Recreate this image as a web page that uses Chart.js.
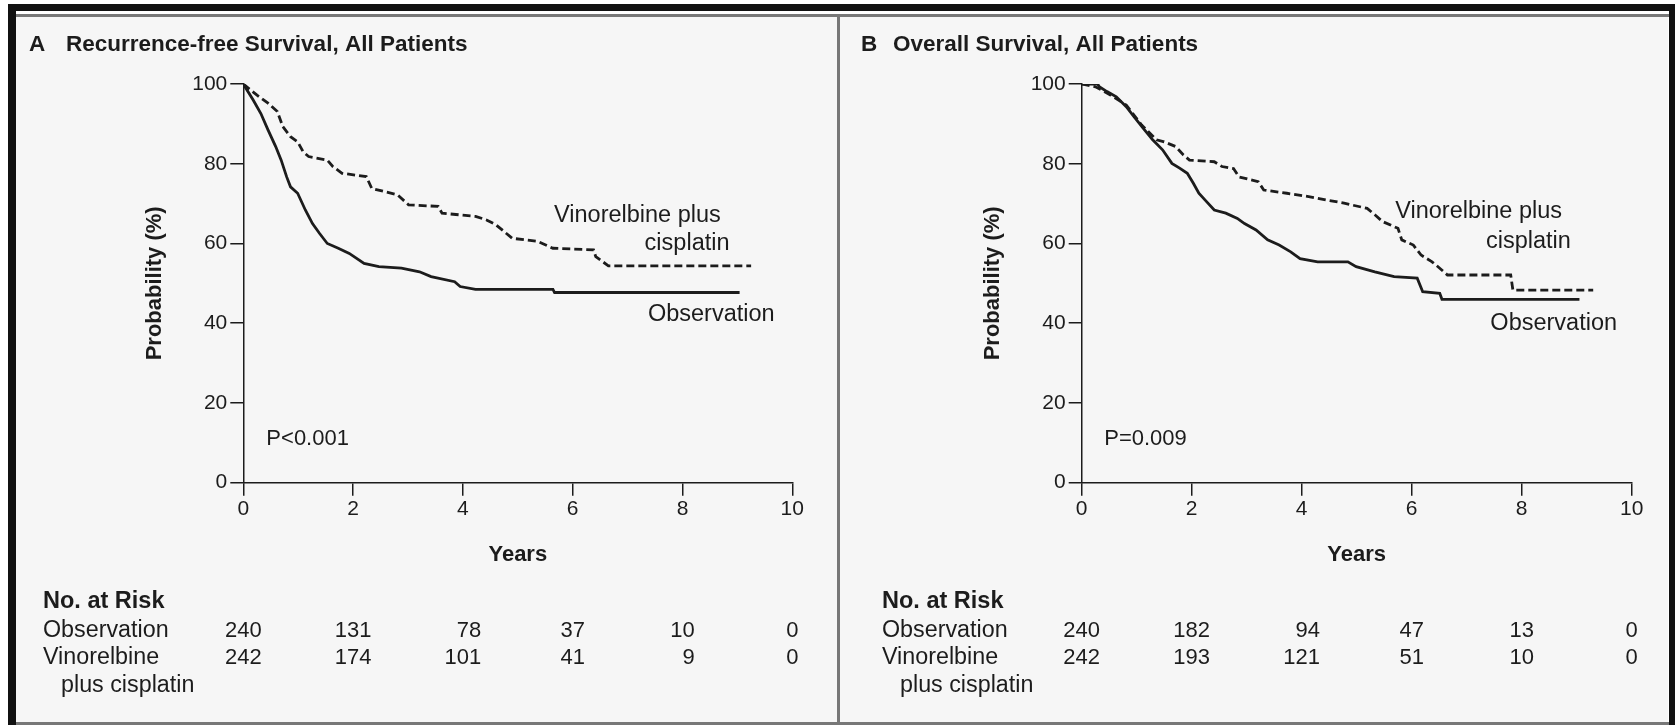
<!DOCTYPE html>
<html>
<head>
<meta charset="utf-8">
<title>Survival curves</title>
<script src="https://cdn.jsdelivr.net/npm/chart.js@4.4.1/dist/chart.umd.min.js"></script>
<style>
  body { margin: 0; width: 1675px; height: 725px; overflow: hidden; position: relative; background: #fff; }
  .bar { position: absolute; background: #111; }
  .rule { position: absolute; background: #777; }
  .panel { position: absolute; top: 17px; bottom: 3px; background: #f6f6f6; }
  canvas { position: absolute; top: 0; }
</style>
</head>
<body>
<div class="panel" style="left:16px; width:821px;"></div>
<div class="panel" style="left:840px; width:828px;"></div>
<div class="bar" style="left:8px; top:4px; width:1667px; height:7px;"></div>
<div class="bar" style="left:8px; top:4px; width:8px; height:721px;"></div>
<div class="bar" style="left:1669px; top:4px; width:6px; height:721px;"></div>
<div class="rule" style="left:16px; top:14px; width:1653px; height:3px;"></div>
<div class="rule" style="left:837px; top:14px; width:3px; height:711px;"></div>
<div class="rule" style="left:16px; top:722px; width:1653px; height:3px;"></div>
<canvas id="panelA" width="838" height="725" style="left:0;"></canvas>
<canvas id="panelB" width="837" height="725" style="left:838px;"></canvas>
<script>
// x axis ticks (years) and the at-risk columns share these
const years = [0, 2, 4, 6, 8, 10];

// A: recurrence-free survival
const rfsObsTime = [0, 0.18, 0.32, 0.45, 0.59, 0.69, 0.79, 0.86, 0.99, 1.13, 1.26, 1.39, 1.53, 1.73, 1.93, 2.2, 2.47, 2.88, 3.21, 3.42, 3.85, 3.95, 4.23, 5.64, 5.67, 9.04];
const rfsObsProb = [100, 96, 92.6, 88.5, 84.3, 80.9, 76.7, 74.2, 72.6, 68.4, 65, 62.5, 60, 58.8, 57.5, 55, 54.2, 53.8, 52.9, 51.7, 50.4, 49.2, 48.5, 48.5, 47.7, 47.7];
const rfsVinTime = [0, 0.25, 0.45, 0.62, 0.72, 0.86, 0.99, 1.09, 1.19, 1.53, 1.63, 1.8, 2.24, 2.34, 2.81, 3.01, 3.55, 3.62, 4.23, 4.43, 4.6, 4.9, 5.37, 5.64, 6.38, 6.42, 6.65, 9.25];
const rfsVinProb = [100, 97.2, 95.2, 93.1, 89.3, 86.8, 85.5, 83, 81.8, 80.9, 79.3, 77.6, 76.8, 73.8, 72.2, 69.7, 69.3, 67.6, 66.8, 65.9, 64.7, 61.3, 60.5, 58.8, 58.4, 56.7, 54.4, 54.4];

// B: overall survival
const osObsTime = [0, 0.29, 0.32, 0.46, 0.63, 0.81, 0.95, 1.12, 1.29, 1.47, 1.64, 1.78, 1.92, 2.03, 2.13, 2.27, 2.41, 2.62, 2.83, 2.96, 3.17, 3.38, 3.59, 3.8, 3.97, 4.29, 4.84, 4.99, 5.33, 5.68, 6.1, 6.2, 6.51, 6.55, 9.05];
const osObsProb = [100, 100, 99.3, 98.1, 96.8, 94.3, 91.8, 88.9, 86, 83.5, 80.1, 78.9, 77.6, 75.1, 72.6, 70.5, 68.4, 67.6, 66.3, 65, 63.4, 60.9, 59.6, 57.9, 56.2, 55.4, 55.4, 54.2, 52.9, 51.7, 51.3, 47.9, 47.5, 46, 46];
const osVinTime = [0, 0.25, 0.53, 0.81, 1.09, 1.36, 1.5, 1.71, 1.85, 1.96, 2.41, 2.55, 2.76, 2.86, 3.21, 3.31, 3.73, 4.15, 4.77, 5.19, 5.33, 5.47, 5.75, 5.82, 6.03, 6.17, 6.37, 6.51, 6.65, 7.8, 7.84, 9.3];
const osVinProb = [100, 99.3, 97.2, 94.7, 89.7, 86, 85.5, 84.3, 82.2, 80.9, 80.5, 79.3, 78.8, 76.7, 75.5, 73.4, 72.6, 71.7, 70.1, 68.8, 67.2, 65.5, 63.8, 60.9, 59.6, 57.1, 55.4, 53.8, 52.1, 52.1, 48.3, 48.3];

// numbers at risk at each tick year
const riskRfsObs = [240, 131, 78, 37, 10, 0];
const riskRfsVin = [242, 174, 101, 41, 9, 0];
const riskOsObs = [240, 182, 94, 47, 13, 0];
const riskOsVin = [242, 193, 121, 51, 10, 0];

const INK = '#1c1c1c';
const FAMILY = '"Liberation Sans", Arial, sans-serif';
const regular = size => `${size}px ${FAMILY}`;
const bold = size => `bold ${size}px ${FAMILY}`;

const toPoints = (t, p) => t.map((v, i) => ({ x: v, y: p[i] }));

// heading, curve labels, p value and the number-at-risk table
const annotate = {
  id: 'annotate',
  afterDraw(chart, args, o) {
    const { ctx, scales: { x, y } } = chart;
    ctx.save();
    ctx.fillStyle = INK;
    ctx.textBaseline = 'middle';
    ctx.textAlign = 'left';

    ctx.font = bold(22.5);
    ctx.fillText(o.letter, o.letterX, 45);
    ctx.fillText(o.heading, o.headingX, 45);

    o.notes.forEach(n => {
      ctx.font = regular(n.size);
      ctx.fillText(n.text, x.getPixelForValue(n.t), y.getPixelForValue(n.v));
    });

    ctx.font = bold(23.5);
    ctx.fillText('No. at Risk', o.tableX, 602);
    ctx.font = regular(23.3);
    ctx.fillText('Observation', o.tableX, 631);
    ctx.fillText('Vinorelbine', o.tableX, 658);
    ctx.fillText('plus cisplatin', o.tableX + 18, 686);

    // columns are right-aligned and centred on the year ticks
    ctx.font = regular(22);
    ctx.textAlign = 'right';
    years.forEach((yr, i) => {
      const a = String(o.risk[0][i]), b = String(o.risk[1][i]);
      const w = Math.max(ctx.measureText(a).width, ctx.measureText(b).width);
      const right = x.getPixelForValue(yr) + w / 2;
      ctx.fillText(a, right, 631);
      ctx.fillText(b, right, 658);
    });
    ctx.restore();
  }
};

function makePanel(id, cfg) {
  const axisLine = { color: INK, width: 1.5 };
  const tickGrid = { drawOnChartArea: false, drawTicks: true, tickLength: 13, color: INK, lineWidth: 1.5 };
  new Chart(document.getElementById(id), {
    type: 'line',
    data: {
      datasets: [
        {
          label: 'Observation',
          data: toPoints(cfg.obsTime, cfg.obsProb),
          borderColor: INK,
          borderWidth: 2.8,
        },
        {
          label: 'Vinorelbine plus cisplatin',
          data: toPoints(cfg.vinTime, cfg.vinProb),
          borderColor: INK,
          borderWidth: 2.8,
          borderDash: [8, 4],
        },
      ],
    },
    options: {
      responsive: false,
      animation: false,
      layout: { padding: { left: 130, top: 84, right: cfg.padRight, bottom: 156.8 } },
      elements: { point: { radius: 0 }, line: { tension: 0, fill: false } },
      plugins: {
        legend: { display: false },
        tooltip: { enabled: false },
        annotate: cfg.annotate,
      },
      scales: {
        x: {
          type: 'linear',
          min: 0,
          max: 10,
          afterBuildTicks: s => { s.ticks = years.map(v => ({ value: v })); },
          ticks: { padding: 1, color: INK, font: { family: FAMILY, size: 21 } },
          grid: tickGrid,
          border: axisLine,
          title: { display: true, text: 'Years', color: INK, font: { family: FAMILY, size: 22, weight: 'bold' }, padding: { top: 0, bottom: 0 } },
          afterFit: s => { s.height = 85.5; },
        },
        y: {
          min: 0,
          max: 100,
          ticks: { stepSize: 20, padding: 3, color: INK, font: { family: FAMILY, size: 21 } },
          grid: tickGrid,
          border: axisLine,
          title: { display: true, text: 'Probability (%)', color: INK, font: { family: FAMILY, size: 22, weight: 'bold' }, padding: { top: 11.8, bottom: 0 } },
          afterFit: s => { s.width = cfg.yWidth; },
        },
      },
    },
    plugins: [annotate],
  });
}

makePanel('panelA', {
  obsTime: rfsObsTime, obsProb: rfsObsProb,
  vinTime: rfsVinTime, vinProb: rfsVinProb,
  padRight: 45.7, yWidth: 113.3,
  annotate: {
    letter: 'A', letterX: 29,
    heading: 'Recurrence-free Survival, All Patients', headingX: 66,
    tableX: 43,
    risk: [riskRfsObs, riskRfsVin],
    notes: [
      { text: 'Vinorelbine plus', t: 5.66, v: 66.9, size: 23.5 },
      { text: 'cisplatin', t: 7.31, v: 60.1, size: 23.5 },
      { text: 'Observation', t: 7.37, v: 42.1, size: 23.5 },
      { text: 'P<0.001', t: 0.42, v: 11, size: 22 },
    ],
  },
});

makePanel('panelB', {
  obsTime: osObsTime, obsProb: osObsProb,
  vinTime: osVinTime, vinProb: osVinProb,
  padRight: 43.3, yWidth: 113.7,
  annotate: {
    letter: 'B', letterX: 23,
    heading: 'Overall Survival, All Patients', headingX: 55,
    tableX: 44,
    risk: [riskOsObs, riskOsVin],
    notes: [
      { text: 'Vinorelbine plus', t: 5.7, v: 67.9, size: 23.5 },
      { text: 'cisplatin', t: 7.35, v: 60.6, size: 23.5 },
      { text: 'Observation', t: 7.43, v: 40, size: 23.5 },
      { text: 'P=0.009', t: 0.41, v: 11, size: 22 },
    ],
  },
});
</script>
</body>
</html>
